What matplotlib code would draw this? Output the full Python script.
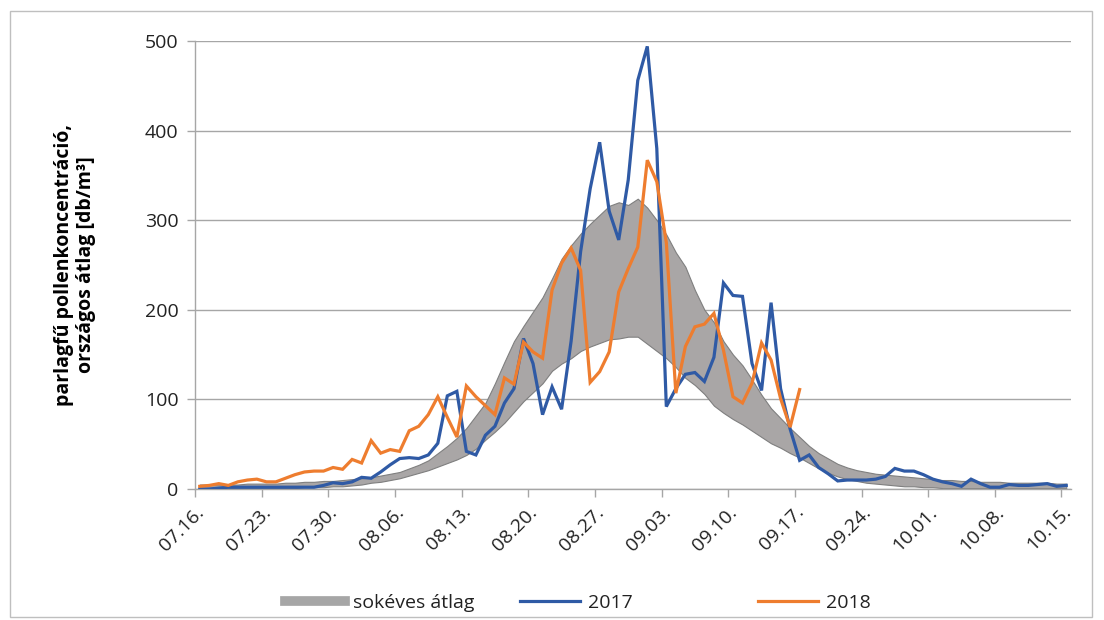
import matplotlib
matplotlib.use("Agg")
import matplotlib.pyplot as plt
from matplotlib.lines import Line2D
from matplotlib.patches import Rectangle
import numpy as np

plt.rcParams['font.family'] = ['Open Sans', 'DejaVu Sans']

# Daily ragweed pollen concentration, 07.16. - 10.15.
tick_labels = ["07.16.", "07.23.", "07.30.", "08.06.", "08.13.", "08.20.", "08.27.",
               "09.03.", "09.10.", "09.17.", "09.24.", "10.01.", "10.08.", "10.15."]

pollen_2017 = [0, 0, 1, 2, 2, 2, 2, 2, 2, 2, 2, 2, 2, 4, 7, 6, 8, 13, 12, 19,
               27, 34, 35, 34, 38, 51, 104, 109, 42, 38, 60, 70, 96, 112, 168, 140, 83, 114, 89, 165,
               265, 335, 387, 310, 278, 345, 456, 494, 380, 92, 112, 128, 130, 120, 147, 230, 216, 215, 140, 110,
               208, 112, 67, 32, 38, 24, 17, 9, 10, 10, 10, 11, 14, 23, 20, 20, 16, 11, 8, 6,
               3, 11, 6, 2, 2, 5, 4, 4, 5, 6, 3, 4]

pollen_2018 = [3, 4, 6, 4, 8, 10, 11, 8, 8, 12, 16, 19, 20, 20, 24, 22, 33, 29, 54, 40,
               44, 42, 65, 70, 83, 103, 80, 58, 115, 103, 93, 83, 124, 117, 164, 153, 146, 222, 252, 269,
               244, 119, 131, 153, 220, 246, 270, 367, 343, 275, 107, 159, 181, 184, 196, 155, 103, 96, 118, 163,
               144, 101, 69, 111]

# Long-term average band (lower and upper bounds)
band_lower = [0, 0, 0, 1, 1, 1, 1, 1, 1, 1, 1, 2, 2, 2, 3, 3, 4, 5, 7, 8,
              10, 12, 15, 18, 21, 25, 29, 33, 38, 45, 55, 64, 74, 86, 98, 108, 118, 132, 140, 146,
              154, 159, 163, 167, 168, 170, 170, 162, 154, 146, 136, 124, 116, 106, 93, 85, 78, 72, 65, 58,
              51, 46, 40, 35, 29, 23, 18, 14, 11, 9, 7, 6, 5, 4, 3, 3, 2, 2, 1, 1,
              1, 1, 1, 1, 1, 1, 1, 1, 1, 1, 1, 1]

band_upper = [5, 5, 5, 5, 5, 6, 6, 6, 6, 7, 7, 8, 8, 9, 9, 10, 11, 12, 13, 15,
              17, 19, 23, 27, 32, 40, 48, 57, 68, 82, 96, 118, 142, 165, 182, 198, 214, 235, 257, 272,
              285, 296, 306, 316, 320, 317, 324, 314, 300, 284, 264, 248, 222, 200, 186, 165, 150, 138, 122, 105,
              90, 79, 68, 58, 48, 40, 34, 28, 24, 21, 19, 17, 16, 15, 14, 13, 12, 11, 10, 10,
              9, 9, 8, 8, 8, 7, 7, 7, 7, 7, 6, 6]

n_days = len(band_upper)
x_all = np.arange(n_days) + 0.5
x_2017 = np.arange(len(pollen_2017)) + 0.5
x_2018 = np.arange(len(pollen_2018)) + 0.5

W, H = 1104, 620
fig = plt.figure(figsize=(W / 100, H / 100), dpi=100)
ax = fig.add_axes([195 / W, 1 - 489 / H, (1071 - 195) / W, (489 - 41) / H])

grid_col = '#A6A6A6'
band_fill = '#A9A6A6'
band_edge = '#7F7F7F'
blue = '#2F5AA5'
orange = '#EE7D2F'

ax.fill_between(x_all, band_lower, band_upper, facecolor=band_fill,
                edgecolor=band_edge, linewidth=0.8, zorder=2)
ax.plot(x_2017, pollen_2017, color=blue, lw=2.3, zorder=3, solid_joinstyle='miter')
ax.plot(x_2018, pollen_2018, color=orange, lw=2.3, zorder=4, solid_joinstyle='miter')

ax.set_xlim(0, n_days)
ax.set_ylim(0, 500)
ax.set_yticks(np.arange(0, 501, 100))
ax.yaxis.grid(True, color=grid_col, lw=1.0)
ax.set_axisbelow(True)

ax.set_xticks(np.arange(0, n_days, 7))
ax.set_xticklabels(tick_labels, rotation=45, ha='right', rotation_mode='anchor')

for side in ('top', 'right'):
    ax.spines[side].set_visible(False)
for side in ('left', 'bottom'):
    ax.spines[side].set_color(grid_col)
    ax.spines[side].set_linewidth(1.0)

ax.tick_params(axis='y', length=6, width=1, color=grid_col, labelsize=14,
               labelcolor='#222222', pad=6)
ax.tick_params(axis='x', length=6, width=1, color=grid_col, labelsize=14,
               labelcolor='#222222', pad=4)

fig.text(75 / W, 1 - 265 / H, "parlagfű pollenkoncentráció,\nországos átlag [db/m³]",
         rotation=90, ha='center', va='center', multialignment='center',
         fontsize=14, fontweight='bold', color='black')

# Legend entries, evenly spaced along the bottom
entries = [
    (Line2D([], [], color='#A6A6A6', lw=7), "sokéves átlag", 285),
    (Line2D([], [], color=blue, lw=2.3), "2017", 520),
    (Line2D([], [], color=orange, lw=2.3), "2018", 758),
]
for handle, label, xpix in entries:
    fig.legend([handle], [label], loc='center left',
               bbox_to_anchor=(xpix / W, 1 - 603 / H), frameon=False,
               handlelength=3.1, handletextpad=0.4, borderpad=0, borderaxespad=0,
               fontsize=14, labelcolor='#222222')

fig.add_artist(Rectangle((10 / W, 3 / H), (1092 - 10) / W, (609 - 3) / H,
                         transform=fig.transFigure, fill=False,
                         edgecolor='#BFBFBF', lw=1.0))

fig.savefig("out.png", dpi=100)
